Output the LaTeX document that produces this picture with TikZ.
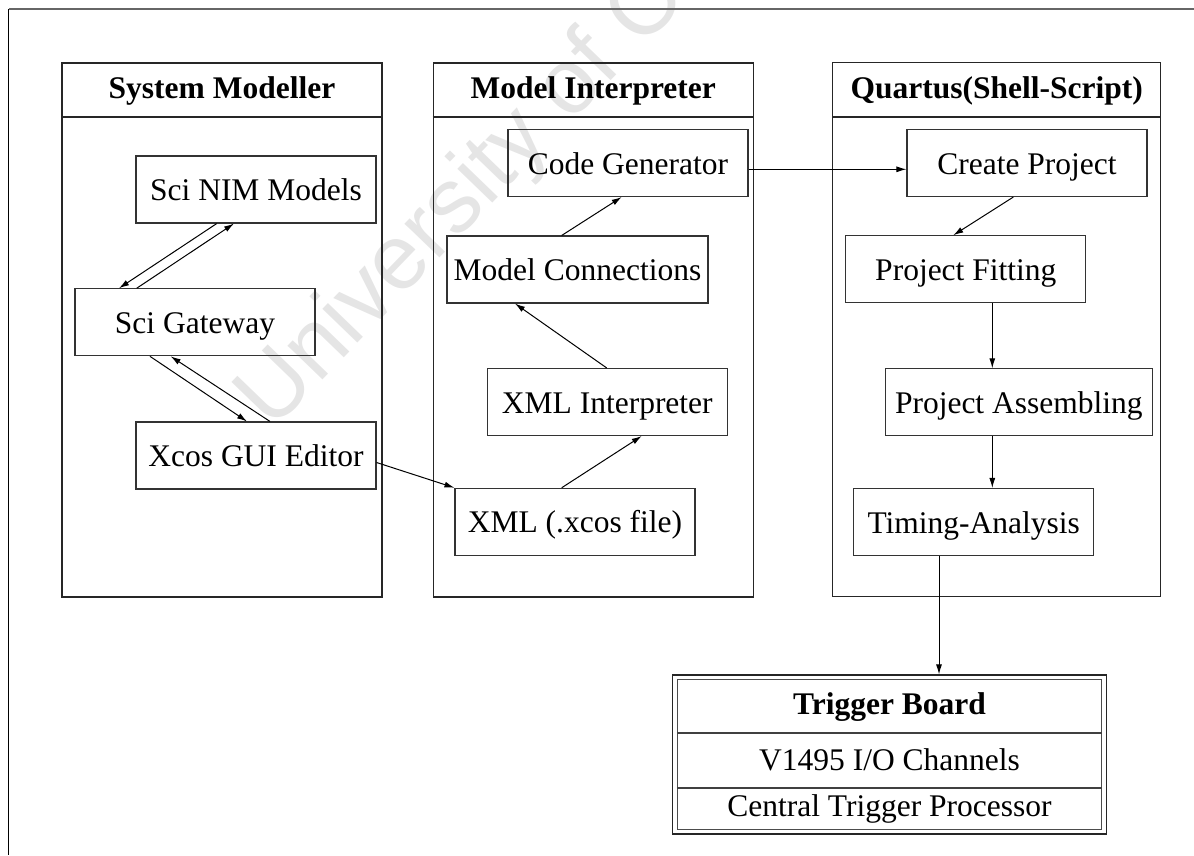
\documentclass[tikz,border=0pt]{standalone}
\usepackage{fontspec}
\setmainfont{Liberation Serif}
\newfontfamily\wmfont{Liberation Sans}
\usetikzlibrary{arrows.meta}
\begin{document}
\begin{tikzpicture}[x=1pt,y=-1pt,
  every node/.style={font=\fontsize{31.5}{36}\selectfont},
  box/.style={draw=black!80,line width=1.1pt,minimum height=67,text height=22,text depth=0,inner sep=0,minimum width=240},
  col/.style={draw=black!85,line width=1.2pt,inner sep=0,minimum width=320,minimum height=534},
  head/.style={anchor=base,font=\fontsize{31.5}{36}\selectfont\bfseries},
  lbl/.style={anchor=base},
  conn/.style={line width=1pt,-{Latex[length=10pt,width=6pt]}},
  divline/.style={line width=2pt,black!85}]
\useasboundingbox (0,0) rectangle (1194,855);
% watermark
\begin{scope}
\clip (0,0) rectangle (1194,855);
\node[anchor=base west,rotate=46,text=black!10,inner sep=0,font=\wmfont\fontsize{92}{100}\selectfont] (wm) at (272,432) {University of Cape Town};
\end{scope}
% frame
\draw[line width=1.5pt,black!60] (8.5,9) -- (1194,9);
\draw[line width=1.5pt,black] (8.5,9) -- (8.5,855);
% columns
\node[col] (c1) at (222,330) {};
\node[col] (c2) at (593.3,330) {};
\node[col,minimum width=328] (c3) at (996.7,329.5) {};
\coordinate (dy) at (0,117);
\draw[divline] (c1.west |- dy) -- (c1.east |- dy);
\draw[divline] (c2.west |- dy) -- (c2.east |- dy);
\draw[divline] (c3.west |- dy) -- (c3.east |- dy);
\node[head] (h1) at (222,98.5) {System Modeller};
\node[head] (h2) at (593.3,98.5) {Model Interpreter};
\node[head] (h3) at (996.7,98.5) {Quartus(Shell-Script)};
% boxes column 1
\node[box] (nim) at (256,189.5) {Sci NIM Models};
\node[box] (gw) at (195,322.3) {Sci Gateway};
\node[box] (xcos) at (256,455.5) {Xcos GUI Editor};
% boxes column 2
\node[box] (cg) at (628,163) {Code Generator};
\node[box,minimum width=261] (mc) at (577.5,269.5) {Model Connections};
\node[box] (xi) at (607.3,402) {XML Interpreter};
\node[box] (xml) at (575,521.8) {XML (.xcos file)};
% boxes column 3
\node[box] (cp) at (1027,163) {Create Project};
\node[box] (pf) at (965.8,269.3) {Project Fitting};
\node[box,minimum width=267] (pa) at (1018.8,402.3) {Project Assembling};
\node[box] (ta) at (973.7,522) {Timing-Analysis};
% trigger board
\node[draw=black!85,line width=1.1pt,inner sep=0,minimum width=434.4,minimum height=159] (tb) at (889.5,754.5) {};
\node[draw=black!70,line width=1.1pt,inner sep=0,minimum width=424,minimum height=150.5] (tbin) at (889.5,754.5) {};
\coordinate (dv1) at (0,733.3);
\coordinate (dv2) at (0,787.7);
\draw[line width=1.8pt,black!75] (tbin.west |- dv1) -- (tbin.east |- dv1);
\draw[line width=1.8pt,black!75] (tbin.west |- dv2) -- (tbin.east |- dv2);
\node[head] (tbh) at (889.5,714.3) {Trigger Board};
\node[lbl] (tbio) at (889.5,770.7) {V1495 I/O Channels};
\node[lbl] (tbctp) at (889.5,816.7) {Central Trigger Processor};
% connectors column 1
\draw[conn] ([xshift=-39.3]nim.south) -- ([xshift=-76]gw.north);
\draw[conn] ([xshift=-58.3]gw.north) -- ([xshift=-22]nim.south);
\draw[conn] ([xshift=-45]gw.south) -- ([xshift=-9]xcos.north);
\draw[conn] ([xshift=14]xcos.north) -- ([xshift=-24.3]gw.south);
\draw[conn] ([yshift=-7]xcos.east) -- (xml.north west);
% column 2
\draw[conn] ([xshift=-13.3]xml.north) -- ([xshift=34.4]xi.south);
\draw[conn] ([xshift=-0.6]xi.north) -- ([xshift=-62.5]mc.south);
\draw[conn] ([xshift=-15.8]mc.north) -- ([xshift=-6.3]cg.south);
\draw[conn] ([yshift=-6.3]cg.east) -- ([yshift=-6.3]cp.west);
% column 3
\draw[conn] ([xshift=-13.7]cp.south) -- ([xshift=-12.5]pf.north);
\draw[conn] ([xshift=26.5]pf.south) -- ([xshift=-26.5]pa.north);
\draw[conn] ([xshift=-26.5]pa.south) -- ([xshift=18.6]ta.north);
\draw[conn] ([xshift=-34.7]ta.south) -- ([xshift=49.5]tb.north);
\end{tikzpicture}
\end{document}
